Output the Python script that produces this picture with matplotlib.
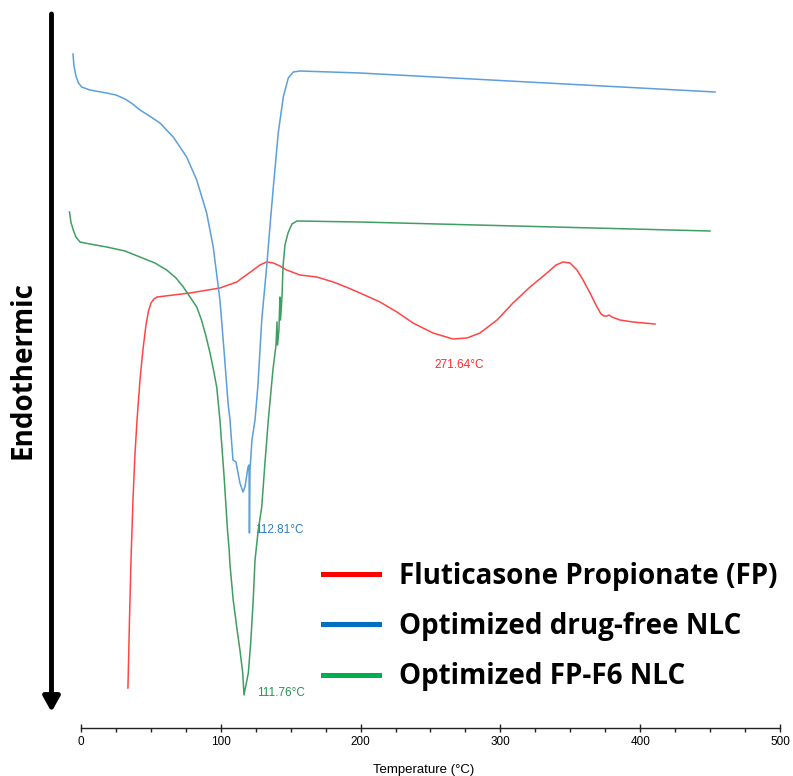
import matplotlib.pyplot as plt
from matplotlib.lines import Line2D

# DSC thermograms (heat flow in arbitrary units)
fp_temp = [33.6, 34.7, 35.8, 37.2, 38.6, 40.1, 42.2, 44.3, 46.5, 48.3, 50.1, 52.2,
           54.4, 77.9, 99.4, 111.4, 123.2, 128.0, 132.8, 137.6, 142.3, 147.1,
           156.7, 168.6, 180.5, 189.6, 199.6, 213.9, 226.0, 237.5, 251.8, 266.1,
           276.1, 285.4, 297.6, 309.0, 321.2, 333.3, 339.8, 344.8, 349.8, 354.8,
           359.1, 364.1, 369.1, 372.0, 374.1, 376.3, 377.7, 379.8, 385.5, 394.8, 410.6]
fp_hf = [0.40, 1.08, 1.68, 2.28, 2.73, 3.08, 3.48, 3.78, 4.03, 4.17, 4.25, 4.29,
         4.31, 4.35, 4.40, 4.46, 4.58, 4.63, 4.66, 4.65, 4.62, 4.58,
         4.53, 4.51, 4.46, 4.41, 4.35, 4.26, 4.16, 4.05, 3.95, 3.89,
         3.90, 3.95, 4.08, 4.25, 4.41, 4.55, 4.63, 4.66, 4.65, 4.58,
         4.48, 4.35, 4.21, 4.14, 4.12, 4.12, 4.13, 4.11, 4.08, 4.06, 4.04]

free_temp = [-5.7, -5.0, -3.6, -1.8, 0.5, 6.4, 18.4, 25.0, 31.5, 37.0, 42.2, 49.0,
             56.5, 66.0, 75.6, 82.8, 89.9, 94.6, 99.4, 102.3, 105.2, 106.6, 108.7,
             110.9, 113.7, 115.9, 117.3, 119.5, 120.2, 120.5, 120.9, 122.3, 124.5,
             126.6, 129.3, 132.8, 135.2, 137.6, 141.1, 144.7, 148.3, 151.9, 156.7,
             199.6, 453.5]
free_hf = [6.74, 6.62, 6.52, 6.45, 6.41, 6.38, 6.35, 6.33, 6.29, 6.24, 6.18, 6.12,
           6.05, 5.91, 5.71, 5.48, 5.15, 4.81, 4.28, 3.78, 3.25, 3.08, 2.68,
           2.66, 2.45, 2.36, 2.41, 2.61, 2.63, 1.95, 2.58, 2.88, 3.08,
           3.43, 4.08, 4.61, 5.02, 5.41, 5.95, 6.31, 6.50, 6.56, 6.57,
           6.55, 6.36]

f6_temp = [-8.2, -7.2, -5.5, -3.6, -0.7, 6.4, 18.4, 31.5, 42.2, 52.9, 61.3, 68.0,
           73.2, 78.0, 82.8, 86.2, 89.4, 92.3, 94.8, 97.1, 99.4, 102.4, 104.8,
           106.0, 106.6, 108.9, 111.4, 113.7, 115.7, 116.6, 119.7, 121.4, 123.2,
           124.5, 126.8, 129.3, 131.6, 134.0, 137.3, 139.5, 140.2, 140.6, 141.6,
           142.3, 142.7, 143.8, 144.5, 145.9, 148.1, 150.9, 154.5, 199.6, 449.9]
f6_hf = [5.16, 5.06, 4.98, 4.91, 4.86, 4.84, 4.81, 4.77, 4.71, 4.65, 4.58, 4.50,
         4.41, 4.31, 4.21, 4.08, 3.92, 3.75, 3.58, 3.41, 3.08, 2.51, 1.98,
         1.78, 1.63, 1.28, 1.01, 0.78, 0.55, 0.33, 0.55, 0.85, 1.28,
         1.68, 1.98, 2.21, 2.65, 3.08, 3.58, 3.83, 4.06, 3.83, 3.98,
         4.31, 4.08, 4.31, 4.61, 4.83, 4.95, 5.04, 5.07, 5.06, 4.97]

labels = ['Fluticasone Propionate (FP)', 'Optimized drug-free NLC', 'Optimized FP-F6 NLC']
peak_labels = ['271.64°C', '112.81°C', '111.76°C']
peak_pos = [(270.4, 3.63), (124.5, 1.98), (126.0, 0.35)]

curve_colors = ['#ff4545', '#5b9fdb', '#3f9e62']
legend_colors = ['#ff0000', '#0070c0', '#00b050']
label_colors = ['#ff2a2a', '#2a7bc9', '#1f9550']

fig = plt.figure(figsize=(7.93, 7.76), dpi=100)
ax = fig.add_axes([53 / 793, 48 / 776, 741 / 793, 728 / 776])

ax.plot(fp_temp, fp_hf, color=curve_colors[0], lw=1.1)
ax.plot(free_temp, free_hf, color=curve_colors[1], lw=1.1)
ax.plot(f6_temp, f6_hf, color=curve_colors[2], lw=1.1)

for txt, (tx, ty), c in zip(peak_labels, peak_pos, label_colors):
    ax.text(tx, ty, txt, color=c, fontsize=8.5, family='Liberation Sans',
            ha='left' if tx < 200 else 'center', va='center')

ax.set_xlim(-20, 510)
ax.set_ylim(0, 7.28)
for s in ['top', 'right', 'left']:
    ax.spines[s].set_visible(False)
ax.spines['bottom'].set_bounds(0, 500)
ax.spines['bottom'].set_linewidth(1.0)
ax.spines['bottom'].set_color('#222222')
ax.set_yticks([])
ax.set_xticks(range(0, 501, 100))
ax.set_xticks(range(25, 500, 25), minor=True)
ax.tick_params(axis='x', which='major', direction='inout', length=6, width=1,
               color='#222222', labelsize=8.5, pad=3)
ax.tick_params(axis='x', which='minor', direction='out', length=3, width=1,
               color='#222222')
for lab in ax.get_xticklabels():
    lab.set_family('Liberation Sans')
ax.set_xlabel('Temperature (°C)', fontsize=9.5, family='Liberation Sans', labelpad=11)

# endothermic arrow on the left
ax.annotate('', xy=(51.5, 64), xycoords='figure pixels',
            xytext=(51.5, 762), textcoords='figure pixels',
            arrowprops=dict(arrowstyle='-|>,head_width=0.25,head_length=0.45',
                            mutation_scale=20, lw=3.5, color='black',
                            shrinkA=0, shrinkB=0))
fig.text(23 / 793, 1 - 370 / 776, 'Endothermic', rotation=90, fontsize=20,
         fontweight='bold', family='Open Sans', ha='center', va='center')

handles = [Line2D([], [], color=c, lw=3.6) for c in legend_colors]
ax.legend(handles, labels, loc='upper left', bbox_to_anchor=(298 / 793, 1 - 537 / 776),
          bbox_transform=fig.transFigure, frameon=False, handlelength=2.0,
          handletextpad=0.75, labelspacing=0.76,
          prop={'family': 'Open Sans', 'weight': 'bold', 'size': 20})

fig.savefig('out.png', dpi=100)
